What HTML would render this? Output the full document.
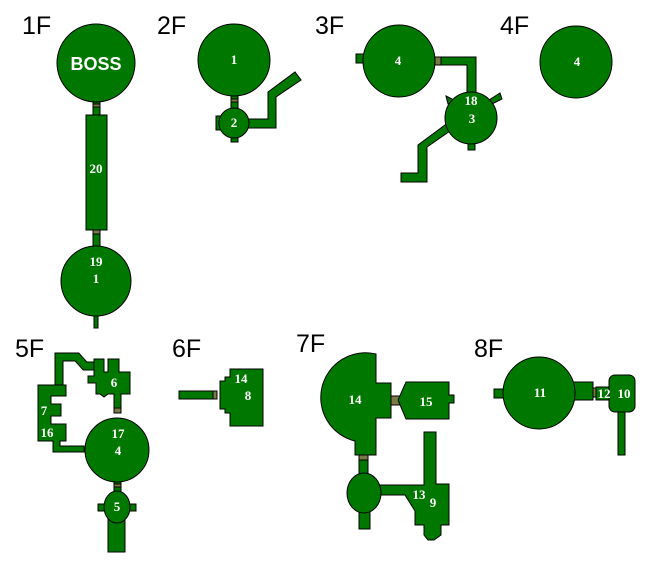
<!DOCTYPE html>
<html><head><meta charset="utf-8"><style>
html,body{margin:0;padding:0;background:#fff;width:649px;height:579px;overflow:hidden}
svg{display:block}
.r{fill:#007800;stroke:#000;stroke-width:1}
.d{fill:#7a7a48;stroke:#000;stroke-width:1}
.f{font-family:"Liberation Sans",sans-serif;font-size:25px;fill:#000}
.t{font-family:"Liberation Serif",serif;font-weight:bold;font-size:13px;fill:#fff;text-anchor:middle}
.cb{fill:none;stroke:#000;stroke-width:9;stroke-linejoin:miter}
.cg{fill:none;stroke:#007800;stroke-width:7;stroke-linejoin:miter}
</style></head><body>
<svg width="649" height="579" viewBox="0 0 649 579">
<text class="f" x="22" y="34">1F</text>
<text class="f" x="157" y="34">2F</text>
<text class="f" x="315" y="34">3F</text>
<text class="f" x="500" y="34">4F</text>
<text class="f" x="15" y="357">5F</text>
<text class="f" x="172" y="357">6F</text>
<text class="f" x="296" y="352">7F</text>
<text class="f" x="474" y="357">8F</text>

<!-- 1F -->
<rect class="r" x="93" y="100" width="7" height="20"/>
<rect class="d" x="93" y="104" width="7" height="3"/>
<circle class="r" cx="96" cy="63" r="39"/>
<rect class="r" x="86" y="115" width="21" height="115"/>
<rect class="r" x="93" y="230" width="7" height="20"/>
<rect class="d" x="93" y="230" width="7" height="4"/>
<rect class="r" x="94" y="310" width="4" height="18"/>
<circle class="r" cx="96" cy="281" r="35"/>
<text x="96" y="70" style="font-family:'Liberation Sans',sans-serif;font-weight:bold;font-size:18px;fill:#fff;text-anchor:middle">BOSS</text>
<text class="t" x="96" y="173">20</text>
<text class="t" x="96" y="266">19</text>
<text class="t" x="96" y="283">1</text>

<!-- 2F -->
<polygon class="r" points="246,119 268,119 268,92 295,72 301,80 276,97 276,128 246,128"/>
<rect class="r" x="231" y="92" width="7" height="20"/>
<rect class="d" x="231" y="99" width="7" height="3"/>
<circle class="r" cx="234" cy="60" r="36"/>
<rect class="r" x="216" y="116" width="10" height="14"/>
<rect class="r" x="231" y="130" width="7" height="12"/>
<circle class="r" cx="234" cy="123" r="15"/>
<text class="t" x="234" y="64">1</text>
<text class="t" x="234" y="127">2</text>

<!-- 3F -->
<polygon class="r" points="440,57 476,57 476,98 467,98 467,65 440,65"/>
<rect class="d" x="435" y="57" width="6" height="8"/>
<rect class="r" x="356" y="54" width="10" height="9"/>
<circle class="r" cx="399" cy="61" r="36"/>
<text class="t" x="398" y="65">4</text>
<polygon class="r" points="449,122 453,129 427,147 427,182 401,182 401,173 418,173 418,145"/>
<rect class="r" x="468" y="138" width="7" height="12"/>
<polygon class="r" points="446,96 456,101 448,104"/>
<polygon class="r" points="489,100 500,93 502,99 492,104"/>
<circle class="r" cx="471" cy="118" r="26"/>
<text class="t" x="471" y="105">18</text>
<text class="t" x="472" y="123">3</text>

<!-- 4F -->
<circle class="r" cx="576" cy="62" r="36"/>
<text class="t" x="577" y="66">4</text>

<!-- 5F -->
<polyline class="cb" points="59,388 59,357 77,357 85,366 96,366"/>
<polyline class="cg" points="59,389 59,357 77,357 85,366 97,366"/>
<polygon class="r" points="38,385 66,385 66,396 51,396 51,404 61,404 61,416 51,416 51,424 66,424 66,441 60,441 60,446 84,446 84,452 53,452 53,441 38,441"/>
<polygon class="r" points="94,359 104,359 104,372 108,372 108,359 119,359 119,372 130,372 130,394 121,394 121,412 114,412 114,394 108,394 104,397 100,394 96,394 96,383 88,383 88,376 94,376"/>
<rect class="d" x="114" y="408" width="7" height="5"/>
<rect class="r" x="114" y="480" width="7" height="12"/>
<rect class="d" x="114" y="484" width="7" height="3"/>
<circle class="r" cx="117" cy="450" r="32"/>
<rect class="r" x="108" y="515" width="17" height="37"/>
<rect class="r" x="98" y="504" width="38" height="7"/>
<ellipse class="r" cx="117" cy="507" rx="13" ry="16"/>
<text class="t" x="114" y="387">6</text>
<text class="t" x="44" y="415">7</text>
<text class="t" x="47" y="437">16</text>
<text class="t" x="118" y="438">17</text>
<text class="t" x="118" y="455">4</text>
<text class="t" x="117" y="511">5</text>

<!-- 6F -->
<rect class="r" x="179" y="391" width="37" height="8"/>
<rect class="d" x="213" y="391" width="4" height="8"/>
<polygon class="r" points="230,369 263,369 263,426 230,426 230,413 225,413 225,409 220,409 220,381 225,381 225,377 230,377"/>
<text class="t" x="241" y="383">14</text>
<text class="t" x="248" y="400">8</text>

<!-- 7F -->
<path class="r" d="M376,354 L376,383 L391,383 L391,418 L376,418 L376,455 L355,455 L355,441 A44,44 0 0 1 376,354 Z"/>
<rect class="d" x="391" y="396" width="9" height="9"/>
<polygon class="r" points="406,382 449,382 449,395 454,395 454,403 449,403 449,419 406,419 398,400"/>
<rect class="r" x="359" y="455" width="9" height="22"/>
<rect class="d" x="359" y="455" width="9" height="5"/>
<polygon class="r" points="424,432 436,432 436,484 449,484 449,525 441,525 441,535 434,540 428,540 424,535 424,525 415,525 415,511 405,495 378,495 378,485 424,485"/>
<rect class="r" x="359" y="505" width="11" height="24"/>
<ellipse class="r" cx="364" cy="493" rx="17" ry="20"/>
<text class="t" x="355" y="404">14</text>
<text class="t" x="426" y="406">15</text>
<text class="t" x="419" y="499">13</text>
<text class="t" x="433" y="507">9</text>

<!-- 8F -->
<rect class="r" x="494" y="389" width="12" height="9"/>
<rect class="r" x="570" y="382" width="23" height="18"/>
<circle class="r" cx="539" cy="393" r="36"/>
<rect class="d" x="593" y="388" width="3" height="9"/>
<rect class="r" x="596" y="387" width="15" height="13"/>
<rect class="r" x="618" y="410" width="7" height="45"/>
<rect class="r" x="609" y="375" width="26" height="37" rx="6"/>
<text class="t" x="540" y="397">11</text>
<text class="t" x="604" y="398">12</text>
<text class="t" x="624" y="398">10</text>
</svg>
</body></html>
